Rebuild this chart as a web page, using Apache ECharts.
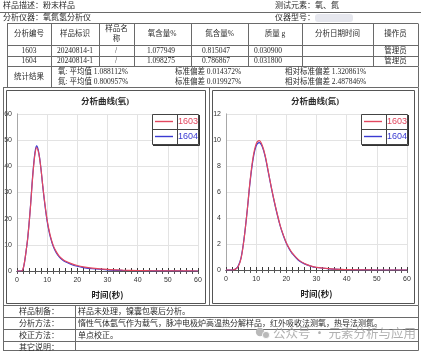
<!DOCTYPE html>
<html>
<head>
<meta charset="utf-8">
<script src="https://cdn.jsdelivr.net/npm/echarts@6/dist/echarts.min.js"></script>
<style>
  html, body { margin: 0; padding: 0; background: #fff; }
  #main { width: 421px; height: 351px; }
</style>
</head>
<body>
<div id="main"></div>
<script>
// 氧、氮分析曲线数据
const oTime = [0, 1.5, 2, 2.5, 3, 3.5, 4, 4.5, 5, 5.5, 6, 6.5, 7, 7.5, 8, 8.5, 9, 9.5, 10, 10.5, 11, 12, 13, 14, 15, 16, 18, 20, 22, 25, 30, 35, 40, 45, 50, 55, 60]
const o1603 = [0, 0, 0.8, 3.5, 7.5, 12, 18, 25, 33, 40, 45, 47.2, 46, 43, 38.5, 33, 28, 23.5, 19.5, 16.3, 13.7, 9.8, 7.4, 5.7, 4.6, 3.8, 2.8, 2.1, 1.6, 1.1, 0.6, 0.35, 0.2, 0.1, 0.05, 0.02, 0]
const o1604 = [0, 0, 0.7, 3.4, 7.4, 12, 18.2, 25.3, 33.4, 40.5, 45.6, 47.8, 46.5, 43.2, 38.5, 32.8, 27.6, 23, 19, 15.8, 13.2, 9.4, 7, 5.4, 4.3, 3.5, 2.5, 1.8, 1.3, 0.85, 0.45, 0.25, 0.15, 0.08, 0.03, 0.01, 0]

const nTime = [0, 2, 3, 4, 5, 6, 7, 8, 9, 10, 11, 12, 13, 14, 15, 16, 17, 18, 19, 20, 21, 22, 24, 26, 28, 30, 35, 40, 45, 50, 60]
const n1603 = [0, 0, 0.05, 0.25, 0.9, 2.4, 4.5, 6.9, 8.7, 9.7, 9.95, 9.6, 8.8, 7.6, 6.4, 5.3, 4.3, 3.4, 2.7, 2.1, 1.65, 1.3, 0.8, 0.5, 0.32, 0.2, 0.08, 0.03, 0.01, 0, 0]
const n1604 = [0, 0, 0.05, 0.28, 0.95, 2.45, 4.5, 6.8, 8.55, 9.55, 9.8, 9.5, 8.7, 7.55, 6.35, 5.25, 4.25, 3.35, 2.65, 2.05, 1.6, 1.25, 0.75, 0.47, 0.3, 0.19, 0.07, 0.02, 0.01, 0, 0]

const sampleNames = ['1603', '1604']
const chartTitles = ['分析曲线(氧)', '分析曲线(氮)']
const xName = '时间(秒)'

// 报告表格文字
const headers = ['分析编号', '样品标识', '样品名称', '氧含量%', '氮含量%', '质量 g', '分析日期时间', '操作员']
const rows = [
  ['1603', '20240814-1', '/', '1.077949', '0.815047', '0.030900', '', '管理员'],
  ['1604', '20240814-1', '/', '1.098275', '0.786867', '0.031800', '', '管理员']
]
const statLines = [
  ['氧: 平均值 1.088112%', '标准偏差 0.014372%', '相对标准偏差 1.320861%'],
  ['氮: 平均值 0.800957%', '标准偏差 0.019927%', '相对标准偏差 2.487846%']
]
const footLabels = ['样品制备：', '分析方法：', '校正方法：', '其它说明：']
const footValues = [
  '样品未处理，镍囊包裹后分析。',
  '惰性气体氩气作为载气，脉冲电极炉高温热分解样品，红外吸收法测氧，热导法测氮。',
  '单点校正。',
  ''
]

const RED = '#e2475f'
const BLUE = '#3a3ad2'
const SERIF = '"Liberation Serif", "Noto Sans CJK SC", serif'
const NARROW = '"Liberation Sans Narrow", "Liberation Sans", sans-serif'
const LINE = '#6a6a6a'

function zip(xs, ys) {
  return xs.map((x, i) => [x, ys[i]])
}

function txt(x, y, text, size, opt) {
  opt = opt || {}
  return {
    type: 'text', x: x, y: y, silent: true, z: opt.z || 10,
    style: {
      text: text,
      font: (opt.bold ? 'bold ' : '') + size + 'px ' + (opt.family || SERIF),
      fill: opt.color || '#2a2a2a',
      align: opt.align || 'left', textAlign: opt.align || 'left',
      verticalAlign: 'middle', textVerticalAlign: 'middle'
    }
  }
}

function ln(x1, y1, x2, y2, color, w, z) {
  return {
    type: 'line', silent: true, z: z || 10,
    shape: { x1: x1, y1: y1, x2: x2, y2: y2 },
    style: { stroke: color || LINE, lineWidth: w || 1 }
  }
}

const g = []

// 顶部两行
g.push(txt(3, 6, '样品描述：粉末样品', 8))
g.push(txt(275, 6, '测试元素：氧、氮', 8))
g.push(ln(0, 12.5, 421, 12.5))
g.push(txt(3, 18, '分析仪器：氧氮氢分析仪', 8))
g.push(txt(275, 18, '仪器型号：', 8))
g.push({ type: 'rect', silent: true, z: 10, shape: { x: 315, y: 14, width: 38, height: 8, r: 3 }, style: { fill: '#e6e7ee' } })

// 结果表
const colX = [7, 51, 99, 134, 191, 248, 302, 373, 418]
const colC = [29, 75, 116.5, 162, 219.5, 275, 337.5, 395.5]
;[23.5, 45.5, 56.5, 66.5].forEach(y => g.push(ln(7, y, 418, y)))
colX.forEach(x => g.push(ln(x + 0.5, 23.5, x + 0.5, 66.5)))
;[7, 51, 418].forEach(x => g.push(ln(x + 0.5, 66.5, x + 0.5, 87.5)))
headers.forEach((h, i) => {
  if (h === '样品名称') {
    g.push(txt(colC[i], 29.5, '样品名', 7.5, { align: 'center' }))
    g.push(txt(colC[i], 39.5, '称', 7.5, { align: 'center' }))
  } else {
    g.push(txt(colC[i], 34.5, h, 7.5, { align: 'center' }))
  }
})
const dataC = [29, 75, 116, 161, 216, 268, 337, 395.5]
rows.forEach((r, ri) => {
  r.forEach((v, i) => g.push(txt(dataC[i], 51 + ri * 10.5, v, 7.5, { align: 'center' })))
})
g.push(txt(29, 77, '统计结果', 7.5, { align: 'center' }))
const statX = [58, 175, 285]
statLines.forEach((line, li) => {
  line.forEach((s, i) => g.push(txt(statX[i], 72 + li * 10.5, s, 7.5)))
})

// 图区外框
g.push(ln(3, 87.5, 418, 87.5))
g.push(ln(3.5, 87.5, 3.5, 305.5))
g.push(ln(418.5, 87.5, 418.5, 305.5))
g.push(ln(209.5, 87.5, 209.5, 305.5))
;[[6.5, 205.5], [212.5, 414.5]].forEach(b => {
  g.push({ type: 'rect', silent: true, z: 1, shape: { x: b[0], y: 90.5, width: b[1] - b[0], height: 213 }, style: { fill: 'none', stroke: '#555', lineWidth: 1 } })
})

// 图标题
g.push(txt(105, 102, chartTitles[0], 8.5, { bold: true, align: 'center' }))
g.push(txt(315, 102, chartTitles[1], 8.5, { bold: true, align: 'center' }))

// 图例框
function legendBox(x0, x1, xm) {
  const y0 = 114, y1 = 144, ym = 129
  g.push({ type: 'rect', silent: true, z: 50, shape: { x: x0 + 0.5, y: y0 + 0.5, width: x1 - x0, height: y1 - y0 }, style: { fill: '#fff', stroke: '#444', lineWidth: 1 } })
  g.push(ln(x0 + 1, y1 + 1.5, x1 + 1.5, y1 + 1.5, '#333', 1, 51))
  g.push(ln(x1 + 1.5, y0 + 1, x1 + 1.5, y1 + 1.5, '#333', 1, 51))
  g.push(ln(xm + 0.5, y0, xm + 0.5, y1, '#444', 1, 51))
  g.push(ln(x0, ym + 0.5, x1, ym + 0.5, '#444', 1, 51))
  ;[RED, BLUE].forEach((c, i) => {
    const yc = y0 + 7.5 + i * 15
    g.push(ln(x0 + 3, yc, xm - 4, yc, c, 1.4, 52))
    g.push(txt((xm + x1) / 2 + 0.5, yc, sampleNames[i], 9, { family: NARROW, color: c, align: 'center', z: 52 }))
  })
}
legendBox(152, 198, 177)
legendBox(361, 407, 386)

// 底部说明表
;[305.5, 317.5, 329.5, 341.5, 350.5].forEach(y => g.push(ln(3, y, 418.5, y)))
;[3.5, 75.5, 418.5].forEach(x => g.push(ln(x, 305.5, x, 350.5)))
footLabels.forEach((s, i) => {
  g.push(txt(39, 311.5 + i * 12, s, 8, { align: 'center' }))
  g.push(txt(78, 311.5 + i * 12, footValues[i], 8))
})

// 水印
g.push({ type: 'circle', silent: true, z: 60, shape: { cx: 260, cy: 332, r: 4.2 }, style: { fill: '#b9b9b9' } })
g.push({ type: 'circle', silent: true, z: 61, shape: { cx: 266, cy: 335, r: 3.6 }, style: { fill: '#b9b9b9', stroke: '#fff', lineWidth: 0.8 } })
g.push(txt(273, 333, '公众号 · 元素分析与应用', 12.5, { family: '"Noto Sans CJK SC", sans-serif', color: 'rgba(150,150,150,0.75)', z: 60 }))

// 坐标轴
function bottomAxis(gi) {
  return {
    gridIndex: gi, type: 'value', min: 0, max: 60, interval: 10,
    name: xName, nameLocation: 'middle', nameGap: 20,
    nameTextStyle: { fontSize: 8.5, fontWeight: 'bold', color: '#222', fontFamily: '"Noto Sans CJK SC", sans-serif' },
    axisLine: { lineStyle: { color: '#3a3a3a', width: 1 } },
    axisTick: { inside: true, length: 3, lineStyle: { color: '#3a3a3a' } },
    minorTick: { show: true, splitNumber: 5, length: 3, lineStyle: { color: '#3a3a3a' } },
    axisLabel: { fontSize: 7, color: '#333', margin: 6, fontFamily: NARROW },
    splitLine: { show: true, lineStyle: { color: '#e3e3e3' } }
  }
}
function topAxis(gi) {
  return {
    gridIndex: gi, type: 'value', position: 'top', min: 0, max: 60, interval: 10,
    axisLine: { lineStyle: { color: '#555', width: 1 } },
    axisTick: { inside: true, length: 3, lineStyle: { color: '#555' } },
    minorTick: { show: true, splitNumber: 5, length: 3, lineStyle: { color: '#555' } },
    axisLabel: { show: false },
    splitLine: { show: false }
  }
}
function leftAxis(gi, max, step) {
  return {
    gridIndex: gi, type: 'value', min: 0, max: max, interval: step,
    axisLine: { show: true, lineStyle: { color: '#c4c4c4' } },
    axisTick: { show: false },
    axisLabel: { fontSize: 7, color: '#333', margin: 5, fontFamily: NARROW },
    splitLine: { show: true, lineStyle: { color: '#e3e3e3' } }
  }
}
function rightAxis(gi, max, step) {
  return {
    gridIndex: gi, type: 'value', position: 'right', min: 0, max: max, interval: step,
    axisLine: { show: true, lineStyle: { color: '#a8a8a8' } },
    axisTick: { show: false }, axisLabel: { show: false }, splitLine: { show: false }
  }
}

function curve(name, xi, yi, data, color, z) {
  return {
    name: name, type: 'line', xAxisIndex: xi, yAxisIndex: yi,
    data: data, smooth: 0.35, showSymbol: false, symbol: 'none', z: z,
    lineStyle: { color: color, width: 1.2 }, itemStyle: { color: color }
  }
}

const option = {
  animation: false,
  backgroundColor: '#fff',
  grid: [
    { left: 17, top: 114, width: 181, height: 157 },
    { left: 226, top: 114, width: 181, height: 156 }
  ],
  xAxis: [bottomAxis(0), topAxis(0), bottomAxis(1), topAxis(1)],
  yAxis: [leftAxis(0, 60, 10), rightAxis(0, 60, 10), leftAxis(1, 12, 2), rightAxis(1, 12, 2)],
  series: [
    curve(sampleNames[1], 0, 0, zip(oTime, o1604), BLUE, 3),
    curve(sampleNames[0], 0, 0, zip(oTime, o1603), RED, 4),
    curve(sampleNames[1], 2, 2, zip(nTime, n1604), BLUE, 3),
    curve(sampleNames[0], 2, 2, zip(nTime, n1603), RED, 4)
  ],
  graphic: { elements: g }
}

const chart = echarts.init(document.getElementById('main'), null, { renderer: 'canvas' })
chart.setOption(option)
window.addEventListener('resize', () => chart.resize())
</script>
</body>
</html>
